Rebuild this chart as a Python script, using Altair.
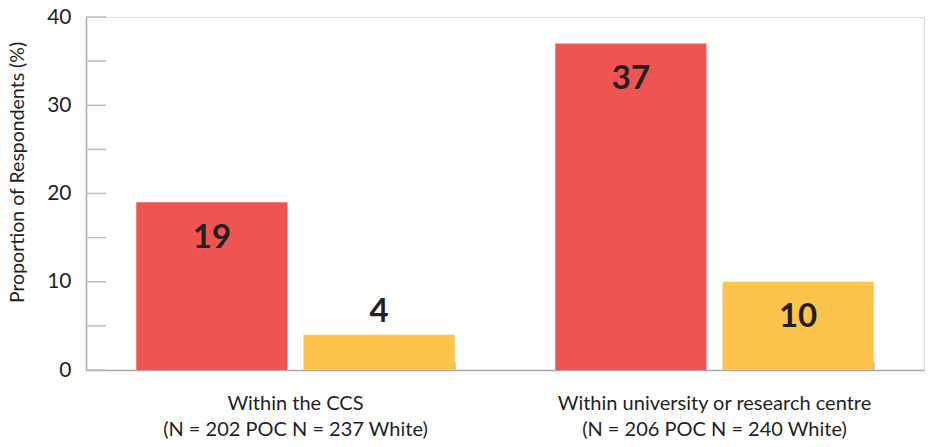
import altair as alt
import pandas as pd

categories = ["Within the CCS", "Within university or research centre"]
subtitles = ["(N = 202 POC N = 237 White)", "(N = 206 POC N = 240 White)"]
groups = ["POC", "White"]
poc_values = [19, 37]
white_values = [4, 10]
y_ticks = [0, 5, 10, 15, 20, 25, 30, 35, 40]

colors = ["#EF5550", "#FCC44B"]
text_color = "#231F20"
axis_grey = "#A7A9AC"
FONT = "Lato"

rows = []
for c, s, p, w in zip(categories, subtitles, poc_values, white_values):
    lab = c + "|" + s
    rows.append({"cat": lab, "group": "POC", "v": p})
    rows.append({"cat": lab, "group": "White", "v": w})
df = pd.DataFrame(rows)
cat_domain = [c + "|" + s for c, s in zip(categories, subtitles)]

x_enc = alt.X(
    "cat:N",
    sort=cat_domain,
    scale=alt.Scale(domain=cat_domain, paddingInner=0.24, paddingOuter=0.12),
    axis=alt.Axis(
        title=None,
        labelExpr="split(datum.label, '|')",
        labelAngle=0,
        labelAlign="center",
        labelLimit=600,
        labelFont=FONT,
        labelFontSize=20,
        labelLineHeight=26,
        labelColor=text_color,
        labelPadding=23,
        labelBaseline="top",
        ticks=False,
        domainColor=axis_grey,
        domainWidth=1.5,
    ),
)
xoff = alt.XOffset("group:N", sort=groups, scale=alt.Scale(domain=groups, paddingInner=0.096, paddingOuter=0))
y_scale = alt.Scale(domain=[0, 40], nice=False)

bars = alt.Chart(df).mark_bar().encode(
    x=x_enc,
    xOffset=xoff,
    y=alt.Y(
        "v:Q",
        scale=y_scale,
        axis=alt.Axis(
            title="Proportion of Respondents (%)",
            values=[0, 10, 20, 30, 40],
            ticks=False,
            grid=False,
            labelFont=FONT,
            labelFontSize=21,
            labelColor=text_color,
            labelPadding=15,
            domainColor=axis_grey,
            domainWidth=1.5,
            titleFont=FONT,
            titleFontSize=19.5,
            titleFontWeight="normal",
            titleColor=text_color,
            titleX=-69,
            titleY=155,
            titleAngle=-90,
            titleAlign="center",
            titleBaseline="middle",
        ),
    ),
    color=alt.Color("group:N", scale=alt.Scale(domain=groups, range=colors), legend=None),
)

labels = alt.Chart(df).transform_calculate(
    ly="datum.v > 6 ? datum.v - 4 : datum.v + 2.6"
).mark_text(font=FONT, fontSize=33, fontWeight="bold", color=text_color, baseline="middle").encode(
    x=alt.X("cat:N", sort=cat_domain),
    xOffset=xoff,
    y=alt.Y("ly:Q", scale=y_scale),
    text=alt.Text("v:Q"),
)

tick_df = pd.DataFrame({"t": y_ticks})
yticks = alt.Chart(tick_df).mark_rule(color="#BCBEC0", strokeWidth=1.5).encode(
    y=alt.Y("t:Q", scale=y_scale),
    x=alt.value(0),
    x2=alt.value(20),
)

band_df = pd.DataFrame({"cat": cat_domain})
xticks = alt.Chart(band_df).mark_rule(color=axis_grey, strokeWidth=1.5).encode(
    x=alt.X("cat:N", sort=cat_domain, bandPosition=1),
    y=alt.value(345),
    y2=alt.value(353),
)

chart = alt.layer(yticks, xticks, bars, labels).properties(
    width=838,
    height=353,
    padding={"left": 86, "top": 17, "right": 6, "bottom": 77},
    autosize=alt.AutoSizeParams(type="none"),
).configure_view(stroke=None).configure(background="white")

chart.save("out.html", embed_options={"renderer": "svg", "actions": False})
